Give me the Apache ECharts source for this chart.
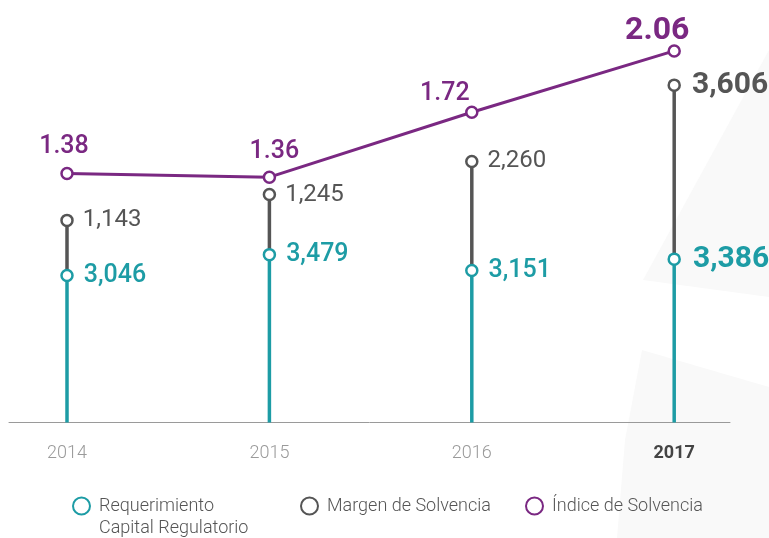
<!DOCTYPE html>
<html>
<head>
<meta charset="utf-8">
<script src="https://cdn.jsdelivr.net/npm/echarts@6/dist/echarts.min.js"></script>
<style>
html,body{margin:0;padding:0;background:#fff;}
#chart{width:769px;height:538px;}
</style>
</head>
<body>
<div id="chart"></div>
<script>
const years = ['2014', '2015', '2016', '2017'];
const requerimiento = [3046, 3479, 3151, 3386];
const margen = [1143, 1245, 2260, 3606];
const indice = [1.38, 1.36, 1.72, 2.06];
const seriesNames = ['Requerimiento Capital Regulatorio', 'Margen de Solvencia', 'Índice de Solvencia'];

const TEAL = '#1d9ca5';
const GRAY = '#555555';
const PURPLE = '#7a2882';
const FONT = 'Roboto';

// label placement tweaks (layout only)
const indiceLabelOffset = [[-3, 0], [5, 2], [-27, 9], [-17, 6]];

const chart = echarts.init(document.getElementById('chart'), null, {renderer: 'canvas'});

function fmt(v) { return v.toLocaleString('en-US'); }
const last = years.length - 1;

const option = {
  backgroundColor: '#ffffff',
  animation: false,
  textStyle: {fontFamily: FONT},
  graphic: [
    {type: 'polygon', z: -10, silent: true,
     shape: {points: [[769, 50], [643, 280], [769, 297]]},
     style: {fill: '#f9f9f9'}},
    {type: 'polygon', z: -10, silent: true,
     shape: {points: [[642, 350], [769, 387], [769, 538], [617, 538], [625, 440]]},
     style: {fill: '#f9f9f9'}}
  ],
  grid: [
    {left: 67, right: 94.8, top: 36.5, bottom: 115.5},
    {left: 9, right: 39, top: 36.5, bottom: 115.5}
  ],
  xAxis: [
    {type: 'category', gridIndex: 0, data: years, boundaryGap: false,
     axisLine: {show: false}, axisTick: {show: false}, splitLine: {show: false},
     axisLabel: {
       margin: 22, fontFamily: FONT, fontSize: 18, fontWeight: 300, color: '#9a9a9a',
       formatter: function (v, i) { return i === last ? '{b|' + v + '}' : v; },
       rich: {b: {fontFamily: FONT, fontSize: 18, fontWeight: 'bold', color: '#444'}}
     }},
    {type: 'value', gridIndex: 1, min: 0, max: 1,
     axisLine: {show: true, lineStyle: {color: '#9a9a9a', width: 1}},
     axisTick: {show: false}, axisLabel: {show: false}, splitLine: {show: false}}
  ],
  yAxis: [
    {type: 'value', gridIndex: 0, min: 0, max: 8000, show: false, splitLine: {show: false}},
    {type: 'value', gridIndex: 0, min: 0, max: 2.14, show: false, splitLine: {show: false}},
    {type: 'value', gridIndex: 1, min: 0, max: 1, show: false, splitLine: {show: false}}
  ],
  legend: [
    {left: 72, top: 473, padding: 0, itemWidth: 17, itemHeight: 17, itemGap: 0,
     data: [{name: seriesNames[0], icon: 'circle'}],
     formatter: function () { return '\nRequerimiento\nCapital Regulatorio'; },
     textStyle: {fontFamily: FONT, fontSize: 18, fontWeight: 300, color: '#555', lineHeight: 22, padding: [0, 0, 0, 4]}},
    {left: 300, top: 495, padding: 0, itemWidth: 17, itemHeight: 17,
     data: [{name: seriesNames[1], icon: 'circle'}],
     textStyle: {fontFamily: FONT, fontSize: 18, fontWeight: 300, color: '#555', lineHeight: 22, padding: [0, 0, 0, 4]}},
    {left: 525, top: 495, padding: 0, itemWidth: 17, itemHeight: 17,
     data: [{name: seriesNames[2], icon: 'circle'}],
     textStyle: {fontFamily: FONT, fontSize: 18, fontWeight: 300, color: '#555', lineHeight: 22, padding: [0, 0, 0, 4]}}
  ],
  series: [
    {name: 'stem-req', type: 'bar', stack: 'stem', barWidth: 3.5, xAxisIndex: 0, yAxisIndex: 0,
     itemStyle: {color: TEAL}, data: requerimiento, z: 2, silent: true},
    {name: 'stem-margen', type: 'bar', stack: 'stem', barWidth: 3.5, xAxisIndex: 0, yAxisIndex: 0,
     itemStyle: {color: GRAY}, data: margen, z: 2, silent: true},
    {name: seriesNames[0], type: 'line', stack: 'marks', xAxisIndex: 0, yAxisIndex: 0,
     symbol: 'circle', symbolSize: 11, lineStyle: {width: 0, opacity: 0},
     itemStyle: {color: '#fff', borderColor: TEAL, borderWidth: 2.5}, z: 5,
     label: {show: true, position: 'right', distance: 10, fontFamily: FONT, fontSize: 25, fontWeight: 500, color: TEAL,
             formatter: function (p) { return fmt(requerimiento[p.dataIndex]); }},
     data: requerimiento.map(function (v, i) {
       return i === last ? {value: v, label: {fontSize: 30, fontWeight: 'bold', distance: 12}} : v;
     })},
    {name: seriesNames[1], type: 'line', stack: 'marks', xAxisIndex: 0, yAxisIndex: 0,
     symbol: 'circle', symbolSize: 11, lineStyle: {width: 0, opacity: 0},
     itemStyle: {color: '#fff', borderColor: GRAY, borderWidth: 2.5}, z: 5,
     label: {show: true, position: 'right', distance: 9, fontFamily: FONT, fontSize: 24, fontWeight: 400, color: GRAY,
             formatter: function (p) { return fmt(margen[p.dataIndex]); }},
     data: margen.map(function (v, i) {
       return i === last ? {value: v, label: {fontSize: 30, fontWeight: 'bold', distance: 11}} : v;
     })},
    {name: seriesNames[2], type: 'line', xAxisIndex: 0, yAxisIndex: 1,
     symbol: 'circle', symbolSize: 11, lineStyle: {width: 3, color: PURPLE},
     itemStyle: {color: '#fff', borderColor: PURPLE, borderWidth: 2.5}, z: 6,
     label: {show: true, position: 'top', distance: 8, fontFamily: FONT, fontSize: 25, fontWeight: 500, color: PURPLE,
             formatter: function (p) { return indice[p.dataIndex].toFixed(2); }},
     data: indice.map(function (v, i) {
       const lbl = {offset: indiceLabelOffset[i]};
       if (i === last) { lbl.fontSize = 32; lbl.fontWeight = 'bold'; lbl.distance = 3; }
       return {value: v, label: lbl};
     })}
  ]
};
chart.setOption(option);
</script>
</body>
</html>
